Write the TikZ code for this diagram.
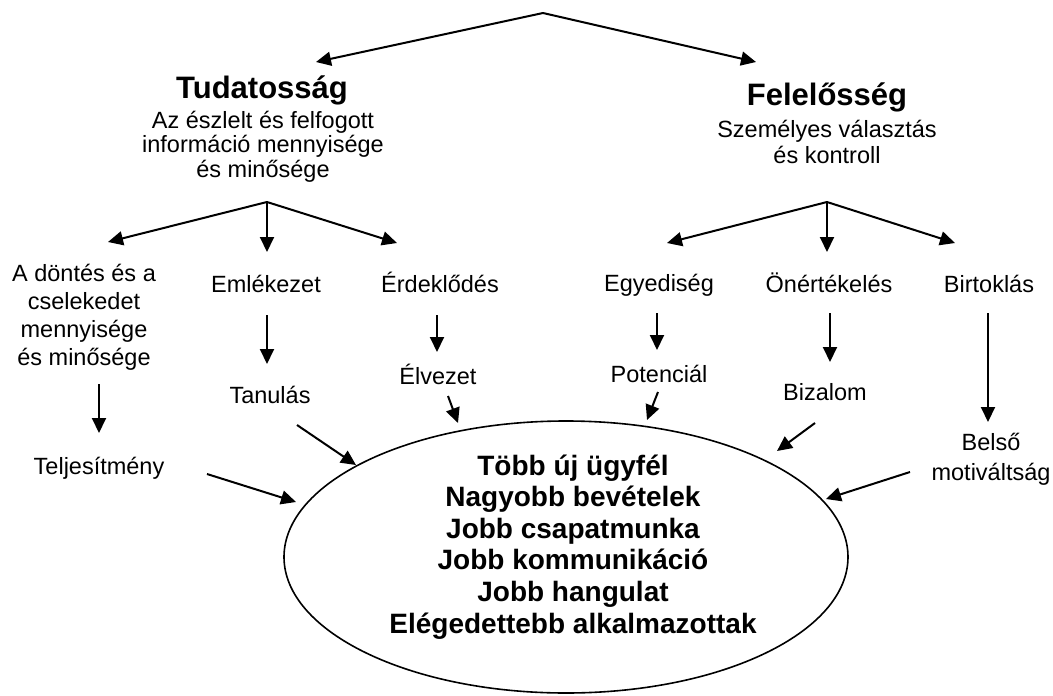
\documentclass[tikz,border=0pt]{standalone}
\usepackage{fontspec}
\setmainfont{Liberation Sans}
\usetikzlibrary{arrows.meta,shapes.geometric}
\newcommand\mlc[1]{\vtop{\lineskiplimit=-100pt\lineskip=0pt\halign{\hfil##\hfil\cr#1\crcr}}}
\begin{document}
\begin{tikzpicture}[x=1pt,y=-1pt,
  arr/.style={line width=2pt,-{Triangle[length=15pt,width=14pt]}},
  lbl/.style={inner sep=0pt,anchor=base,font=\fontsize{23.5}{28}\selectfont},
  ttl/.style={inner sep=0pt,anchor=base,font=\bfseries\fontsize{31}{36}\selectfont},
  big/.style={inner sep=0pt,anchor=base,font=\bfseries\fontsize{28}{31.6}\selectfont}]
\useasboundingbox (0,0) rectangle (1053,696);
% outcome ellipse
\node[draw,ellipse,line width=1.6pt,minimum width=564pt,minimum height=272pt,inner sep=0pt] (outc) at (566,557) {};
\node[big] (outtxt) at (573,475) {\mlc{Több új ügyfél\cr Nagyobb bevételek\cr Jobb csapatmunka\cr Jobb kommunikáció\cr Jobb hangulat\cr Elégedettebb alkalmazottak}};
% titles
\node[ttl] (tud) at (262,98) {Tudatosság};
\node[lbl,font=\fontsize{23.5}{24.5}\selectfont] (tudsub) at (263,128) {\mlc{Az észlelt és felfogott\cr információ mennyisége\cr és minősége}};
\node[ttl] (fel) at (827,105) {Felelősség};
\node[lbl,font=\fontsize{23.5}{26}\selectfont] (felsub) at (827,137) {\mlc{Személyes választás\cr és kontroll}};
% level 3
\node[lbl] (dont) at (84,281) {\mlc{A döntés és a\cr cselekedet\cr mennyisége\cr és minősége}};
\node[lbl] (emlek) at (266,292) {Emlékezet};
\node[lbl] (erdek) at (440,292) {Érdeklődés};
\node[lbl] (egyed) at (659,291) {Egyediség};
\node[lbl] (onert) at (829,292) {Önértékelés};
\node[lbl] (birt) at (989,292) {Birtoklás};
% level 4
\node[lbl] (telj) at (99,474) {Teljesítmény};
\node[lbl] (tanul) at (270,403) {Tanulás};
\node[lbl] (elvez) at (438,384) {Élvezet};
\node[lbl] (poten) at (659,382) {Potenciál};
\node[lbl] (bizal) at (825,400) {Bizalom};
\node[lbl,font=\fontsize{23.5}{30}\selectfont] (belso) at (991,450) {\mlc{Belső\cr motiváltság}};
% connector points
\coordinate (top) at (543,13);
\coordinate (tT) at (316,62);
\coordinate (tF) at (756,62);
\coordinate (ta) at (267,202);
\coordinate (ta1) at (108,242);
\coordinate (ta2) at (267,252);
\coordinate (ta3) at (397,243);
\coordinate (fa) at (827,202);
\coordinate (fa1) at (667,243);
\coordinate (fa2) at (827,252);
\coordinate (fa3) at (955,243);
\coordinate (d1s) at (99,384);   \coordinate (d1e) at (99,433);
\coordinate (d2s) at (267,315);  \coordinate (d2e) at (267,364);
\coordinate (d3s) at (437,315);  \coordinate (d3e) at (437,352);
\coordinate (d4s) at (657,313);  \coordinate (d4e) at (657,350);
\coordinate (d5s) at (830,313);  \coordinate (d5e) at (830,362);
\coordinate (d6s) at (988,313);  \coordinate (d6e) at (988,422);
\coordinate (e1s) at (207,474);  \coordinate (e1e) at (296,502);
\coordinate (e2s) at (297,425);  \coordinate (e2e) at (356,465);
\coordinate (e3s) at (448,396);  \coordinate (e3e) at (458,423);
\coordinate (e4s) at (658,392);  \coordinate (e4e) at (647,420);
\coordinate (e5s) at (815,423);  \coordinate (e5e) at (777,451);
\coordinate (e6s) at (910,472);  \coordinate (e6e) at (826,499);
% arrows
\draw[arr] (top) -- (tT);
\draw[arr] (top) -- (tF);
\draw[arr] (ta) -- (ta1);
\draw[arr] (ta) -- (ta2);
\draw[arr] (ta) -- (ta3);
\draw[arr] (fa) -- (fa1);
\draw[arr] (fa) -- (fa2);
\draw[arr] (fa) -- (fa3);
\draw[arr] (d1s) -- (d1e);
\draw[arr] (d2s) -- (d2e);
\draw[arr] (d3s) -- (d3e);
\draw[arr] (d4s) -- (d4e);
\draw[arr] (d5s) -- (d5e);
\draw[arr] (d6s) -- (d6e);
\draw[arr] (e1s) -- (e1e);
\draw[arr] (e2s) -- (e2e);
\draw[arr] (e3s) -- (e3e);
\draw[arr] (e4s) -- (e4e);
\draw[arr] (e5s) -- (e5e);
\draw[arr] (e6s) -- (e6e);
\end{tikzpicture}
\end{document}
